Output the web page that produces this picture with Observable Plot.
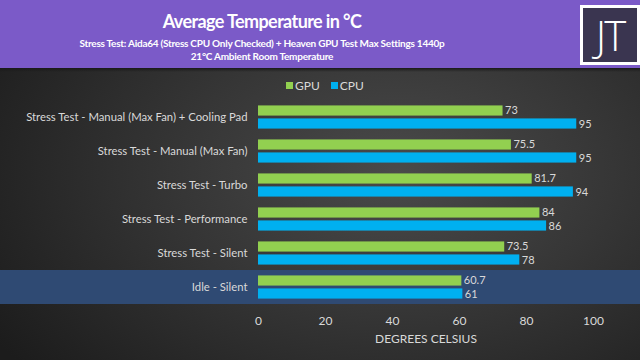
<!DOCTYPE html>
<html><head><meta charset="utf-8">
<script src="https://cdn.jsdelivr.net/npm/d3@7"></script>
<script src="https://cdn.jsdelivr.net/npm/@observablehq/plot@0.6"></script>
<style>
html,body{margin:0;padding:0;}
body{width:640px;height:360px;overflow:hidden;position:relative;font-family:Lato,sans-serif;
  background: radial-gradient(ellipse 75% 85% at 62% 48%, #4a4a4a 0%, #363636 45%, #1c1c1c 100%);}
#header{position:absolute;left:0;top:0;width:640px;height:68px;background:#7b5ac8;}
#strip{position:absolute;left:0;top:68px;width:640px;height:4px;background:linear-gradient(#1a1a1a,rgba(30,30,30,0));}
#header .t{position:absolute;left:0;width:524px;text-align:center;color:#fff;font-weight:bold;white-space:nowrap;}
#title{top:11px;font-size:18px;line-height:20px;letter-spacing:-0.6px;}
#sub1{top:38px;font-size:10px;line-height:11px;letter-spacing:-0.25px;}
#sub2{top:51px;font-size:10px;line-height:11px;letter-spacing:-0.25px;}
#logo{position:absolute;left:580px;top:5px;width:54px;height:54px;border:3px solid #fff;background:#3a3550;color:#fff;
  font-family:"Open Sans",sans-serif;font-weight:300;font-size:42px;line-height:54px;text-align:center;letter-spacing:-2px;}
#chart{position:absolute;left:0;top:68px;}
#legend{position:absolute;left:286px;top:78px;}
.lg-swatches{font-family:Lato,sans-serif !important;font-size:12px !important;color:#d9d9d9 !important;margin:0 !important;min-height:0 !important;}
.lg-swatch{margin-right:11px !important;}
.lg-swatch > svg{margin-right:2px !important;}
</style></head>
<body>
<div id="header">
  <div class="t" id="title">Average Temperature in °C</div>
  <div class="t" id="sub1">Stress Test: Aida64 (Stress CPU Only Checked) + Heaven GPU Test Max Settings 1440p</div>
  <div class="t" id="sub2">21°C Ambient Room Temperature</div>
  <div id="logo">JT</div>
</div>
<div id="strip"></div>
<div id="chart"></div>
<div id="legend"></div>
<script>
const categories = [
  "Stress Test - Manual (Max Fan) + Cooling Pad",
  "Stress Test - Manual (Max Fan)",
  "Stress Test - Turbo",
  "Stress Test - Performance",
  "Stress Test - Silent",
  "Idle - Silent"
];
const series = ["GPU", "CPU"];
const gpu = [73, 75.5, 81.7, 84, 73.5, 60.7];
const cpu = [95, 95, 94, 86, 78, 61];
const xTicks = [0, 20, 40, 60, 80, 100];
const highlighted = "Idle - Silent";
const colors = ["#92d050", "#00b0f0"];

const rows = [];
categories.forEach((c, i) => {
  rows.push({category: c, series: "GPU", value: gpu[i]});
  rows.push({category: c, series: "CPU", value: cpu[i]});
});
const gpuRows = rows.filter(d => d.series === "GPU");
const cpuRows = rows.filter(d => d.series === "CPU");

const H = 292, mTop = 29, mBottom = 54;
const band = (H - mTop - mBottom) / categories.length;
const barH = 11, gap = 2;
const outer = (band - 2 * barH - gap) / 2;
const off = (barH + gap) / 2 + 0.4;

function highlightMark(index, scales, values, dims) {
  const y = scales.y;
  const bw = y.bandwidth ? y.bandwidth() : band;
  return d3.create("svg:rect")
    .attr("x", 0).attr("width", dims.width)
    .attr("y", y(highlighted)).attr("height", bw)
    .attr("fill", "#2f4a73").node();
}

const xAxisOpts = {ticks: xTicks, tickSize: 0, tickPadding: 10, label: "DEGREES CELSIUS", labelAnchor: "center", labelOffset: 36, labelArrow: false};
const yAxisOpts = {tickSize: 0, tickPadding: 11, label: null, fontSize: 11.3};
const hasAxisMarks = typeof Plot.axisX === "function";

const plot = Plot.plot({
  width: 640,
  height: H,
  marginTop: mTop,
  marginBottom: mBottom,
  marginLeft: 258,
  marginRight: 47,
  style: {background: "transparent", color: "#d9d9d9", fontFamily: "Lato, sans-serif", fontSize: "12px"},
  x: hasAxisMarks ? {domain: [0, 100]} : {domain: [0, 100], ...xAxisOpts},
  y: hasAxisMarks ? {domain: categories, padding: 0} : {domain: categories, padding: 0, ...yAxisOpts},
  color: {domain: series, range: colors},
  marks: [
    highlightMark,
    ...(hasAxisMarks ? [Plot.axisY(yAxisOpts), Plot.axisX(xAxisOpts)] : []),
    Plot.barX(gpuRows, {y: "category", x: "value", fill: "series", insetTop: outer, insetBottom: band - outer - barH}),
    Plot.barX(cpuRows, {y: "category", x: "value", fill: "series", insetTop: outer + barH + gap, insetBottom: outer}),
    Plot.text(gpuRows, {y: "category", x: "value", text: d => String(d.value), textAnchor: "start", dx: 2, dy: -off, fill: "#d9d9d9", fontSize: 11})
    ,
    Plot.text(cpuRows, {y: "category", x: "value", text: d => String(d.value), textAnchor: "start", dx: 2, dy: off, fill: "#d9d9d9", fontSize: 11})
  ]
});
document.getElementById("chart").appendChild(plot);
const lg = plot.legend("color", {legend: "swatches", swatchSize: 7, className: "lg"});
document.getElementById("legend").appendChild(lg);
</script>
</body></html>
